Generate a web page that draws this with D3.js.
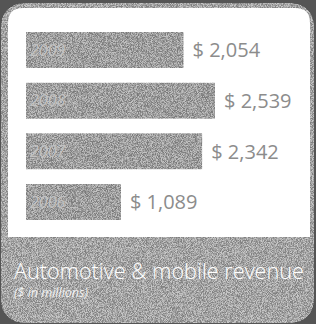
<!DOCTYPE html>
<html><head><meta charset="utf-8">
<script src="https://cdn.jsdelivr.net/npm/d3@7"></script>
<style>html,body{margin:0;padding:0;background:#6e6e6e;}svg{display:block;}</style>
</head><body><div id="chart"></div>
<script>
const years = ["2009", "2008", "2007", "2006"];
const revenue = [2054, 2539, 2342, 1089];
const valueLabels = ["$ 2,054", "$ 2,539", "$ 2,342", "$ 1,089"];
const title = "Automotive & mobile revenue";
const subtitle = "($ in millions)";

const W = 316, H = 324;
const svg = d3.select("#chart").append("svg").attr("width", W).attr("height", H);

const defs = svg.append("defs");
const f = defs.append("filter").attr("id", "grain").attr("x", 0).attr("y", 0).attr("width", "100%").attr("height", "100%")
  .attr("color-interpolation-filters", "sRGB");
f.append("feTurbulence").attr("type", "fractalNoise").attr("baseFrequency", 1.2).attr("numOctaves", 2).attr("seed", 3).attr("result", "n");
f.append("feColorMatrix").attr("in", "n").attr("type", "matrix")
  .attr("values", "3 0 0 0 -1  3 0 0 0 -1  3 0 0 0 -1  0 0 0 0 1").attr("result", "g");
f.append("feComposite").attr("in", "SourceGraphic").attr("in2", "g").attr("operator", "arithmetic")
  .attr("k1", 0).attr("k2", 1).attr("k3", 0.28).attr("k4", -0.14).attr("result", "m");
f.append("feComposite").attr("in", "m").attr("in2", "SourceGraphic").attr("operator", "in");

// outer card
svg.append("rect").attr("x", 0).attr("y", 0).attr("width", W).attr("height", H).attr("fill", "#555555");
svg.append("rect").attr("x", 1).attr("y", 3).attr("width", W - 3).attr("height", H - 4).attr("rx", 22)
  .attr("fill", "#a4a4a4").attr("filter", "url(#grain)");

// white panel (rounded top corners)
const px = 8, py = 8, pw = 302, ph = 229, r = 15;
svg.append("path").attr("fill", "#ffffff")
  .attr("d", `M${px},${py + ph} V${py + r} Q${px},${py} ${px + r},${py} H${px + pw - r} Q${px + pw},${py} ${px + pw},${py + r} V${py + ph} Z`);

const data = years.map((y, i) => ({ year: y, value: revenue[i], label: valueLabels[i] }));

const x = d3.scaleLinear().domain([-374, d3.max(revenue)]).range([0, 189]);
const y = d3.scaleBand().domain(years).range([32, 220]).paddingInner(0.29).paddingOuter(0);
const x0 = 26;

const g = svg.append("g");
g.selectAll("rect.bar").data(data).join("rect").attr("class", "bar")
  .attr("x", x0).attr("y", d => y(d.year))
  .attr("width", d => x(d.value)).attr("height", y.bandwidth())
  .attr("fill", "#9e9e9e").attr("filter", "url(#grain)");

g.selectAll("text.yr").data(data).join("text").attr("class", "yr")
  .attr("x", x0 + 4).attr("y", d => y(d.year) + y.bandwidth() / 2)
  .attr("dy", "0.35em").attr("fill", "#c2c2c2")
  .style("font-family", "'Open Sans', sans-serif").style("font-size", "16px").style("font-style", "italic")
  .text(d => d.year);

g.selectAll("text.val").data(data).join("text").attr("class", "val")
  .attr("x", d => x0 + x(d.value) + 9).attr("y", d => y(d.year) + y.bandwidth() / 2)
  .attr("dy", "0.36em").attr("fill", "#8c8c8c")
  .style("font-family", "'Open Sans', sans-serif").style("font-size", "20px")
  .text(d => d.label);

svg.append("text").attr("x", 14).attr("y", 279).attr("fill", "#ffffff")
  .style("font-family", "'Open Sans', sans-serif").style("font-size", "22px").style("font-weight", 300)
  .attr("textLength", 290).attr("lengthAdjust", "spacingAndGlyphs")
  .text(title);
svg.append("text").attr("x", 14).attr("y", 297).attr("fill", "#f2f2f2")
  .style("font-family", "'Open Sans', sans-serif").style("font-size", "12.5px").style("font-style", "italic")
  .text(subtitle);
</script></body></html>
